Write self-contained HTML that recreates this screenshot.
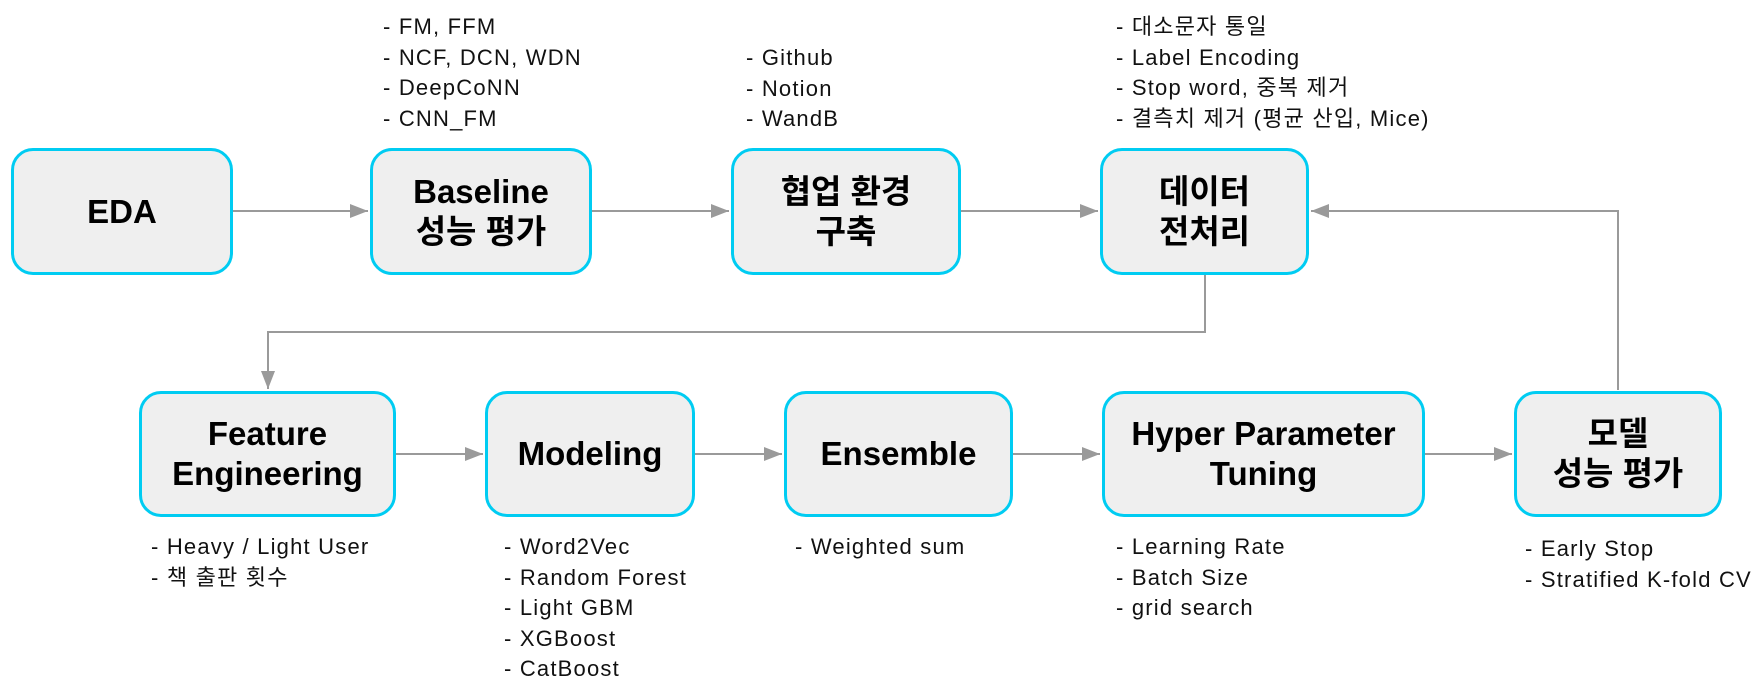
<!DOCTYPE html>
<html><head><meta charset="utf-8"><style>
body{margin:0;width:1753px;height:689px;background:#fff;position:relative;overflow:hidden;font-family:"Liberation Sans","Noto Sans CJK KR",sans-serif}
.b{position:absolute;box-sizing:border-box;border:3.5px solid #00ccf2;border-radius:22px;background:#efefef;display:flex;align-items:center;justify-content:center;text-align:center;font-weight:bold;font-size:33px;line-height:40px;color:#000}
.n{position:absolute;font-size:22px;letter-spacing:1.2px;line-height:30.5px;color:#111;white-space:nowrap}
svg{position:absolute;left:0;top:0}
</style></head><body>
<svg width="1753" height="689">
<defs>
<marker id="m" markerWidth="18" markerHeight="14" refX="18" refY="7" orient="auto" markerUnits="userSpaceOnUse"><path d="M0,0 L18,7 L0,14z" fill="#9a9a9a"/></marker></defs>
<g stroke="#9a9a9a" stroke-width="2" fill="none">
<path d="M233,211 H368" marker-end="url(#m)"/>
<path d="M592,211 H729" marker-end="url(#m)"/>
<path d="M961,211 H1098" marker-end="url(#m)"/>
<path d="M1618,390 V211 H1311" marker-end="url(#m)"/>
<path d="M1205,275 V332 H268 V389" marker-end="url(#m)"/>
<path d="M396,454 H483" marker-end="url(#m)"/>
<path d="M695,454 H782" marker-end="url(#m)"/>
<path d="M1013,454 H1100" marker-end="url(#m)"/>
<path d="M1425,454 H1512" marker-end="url(#m)"/>
</g></svg>
<div class="b" style="left:11px;top:148px;width:222px;height:127px">EDA</div>
<div class="b" style="left:370px;top:148px;width:222px;height:127px">Baseline<br>성능 평가</div>
<div class="b" style="left:731px;top:148px;width:230px;height:127px">협업 환경<br>구축</div>
<div class="b" style="left:1100px;top:148px;width:209px;height:127px">데이터<br>전처리</div>
<div class="b" style="left:139px;top:391px;width:257px;height:126px">Feature<br>Engineering</div>
<div class="b" style="left:485px;top:391px;width:210px;height:126px">Modeling</div>
<div class="b" style="left:784px;top:391px;width:229px;height:126px">Ensemble</div>
<div class="b" style="left:1102px;top:391px;width:323px;height:126px">Hyper Parameter<br>Tuning</div>
<div class="b" style="left:1514px;top:391px;width:208px;height:126px">모델<br>성능 평가</div>
<div class="n" style="left:383px;top:12px">- FM, FFM<br>- NCF, DCN, WDN<br>- DeepCoNN<br>- CNN_FM</div>
<div class="n" style="left:746px;top:43px">- Github<br>- Notion<br>- WandB</div>
<div class="n" style="left:1116px;top:12px">- 대소문자 통일<br>- Label Encoding<br>- Stop word, 중복 제거<br>- 결측치 제거 (평균 산입, Mice)</div>
<div class="n" style="left:151px;top:532px">- Heavy / Light User<br>- 책 출판 횟수</div>
<div class="n" style="left:504px;top:532px">- Word2Vec<br>- Random Forest<br>- Light GBM<br>- XGBoost<br>- CatBoost</div>
<div class="n" style="left:795px;top:532px">- Weighted sum</div>
<div class="n" style="left:1116px;top:532px">- Learning Rate<br>- Batch Size<br>- grid search</div>
<div class="n" style="left:1525px;top:534px">- Early Stop<br>- Stratified K-fold CV</div>
</body></html>
